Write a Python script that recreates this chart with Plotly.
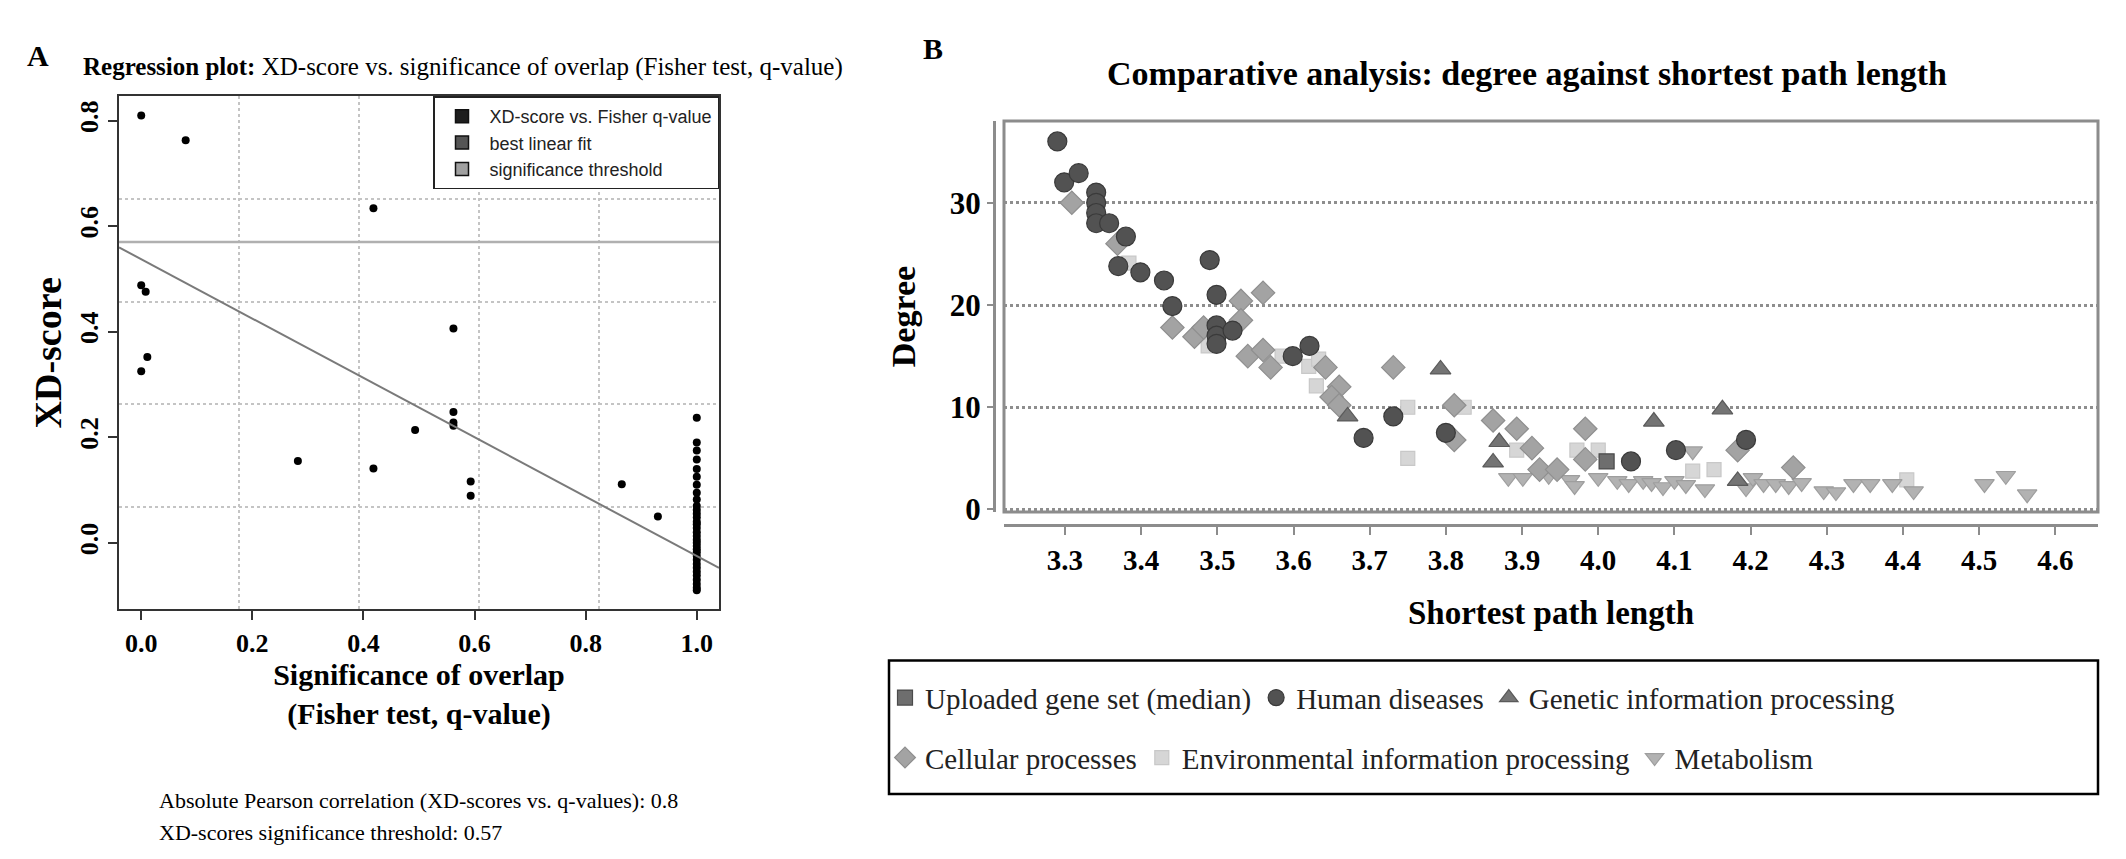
import numpy as np
import plotly.graph_objects as go

W, H = 2126, 859

# ---------------- panel A : regression plot ----------------
# q-values and XD-scores of the pathways (one column of points sits at q = 1.0)
q_scattered = [0.0, 0.08, 0.418, 0.0, 0.008, 0.011, 0.0, 0.562, 0.493, 0.562, 0.562, 0.562,
               0.282, 0.418, 0.593, 0.593, 0.865, 0.93]
xd_scattered = [0.81, 0.763, 0.634, 0.488, 0.476, 0.352, 0.325, 0.406, 0.214, 0.248, 0.228, 0.222,
                0.155, 0.141, 0.116, 0.089, 0.111, 0.05]
xd_at_q_one = [0.237, 0.19, 0.175, 0.158, 0.14, 0.125, 0.11, 0.095, 0.082, 0.07, 0.062, 0.055,
               0.048, 0.04, 0.035, 0.028, 0.02, 0.013, 0.006, 0.0, -0.006, -0.012, -0.018,
               -0.025, -0.032, -0.04, -0.047, -0.055, -0.062, -0.07, -0.078, -0.085, -0.09]
fit_intercept = 0.5375
fit_slope = -0.5625
xd_threshold = 0.57
pearson_abs = 0.8

legend_a_names = ["XD-score vs. Fisher q-value", "best linear fit", "significance threshold"]
legend_a_colors = ["#1e1e1e", "#555555", "#a0a0a0"]

# ---------------- panel B : degree vs shortest path length ----------------
uploaded_x = [4.011]
uploaded_y = [4.7]

human_x = [3.29, 3.299, 3.318, 3.341, 3.341, 3.341, 3.341, 3.358, 3.38, 3.37, 3.399, 3.43, 3.441,
           3.49, 3.499, 3.499, 3.499, 3.499, 3.52, 3.599, 3.621, 3.692, 3.731, 3.80, 4.043, 4.102, 4.194]
human_y = [36.0, 32.0, 32.9, 31.0, 30.0, 29.0, 28.0, 28.0, 26.7, 23.8, 23.2, 22.4, 19.9,
           24.4, 21.0, 18.0, 17.0, 16.2, 17.5, 15.0, 16.0, 7.0, 9.1, 7.5, 4.7, 5.8, 6.8]

genetic_x = [3.671, 3.793, 3.870, 3.862, 4.073, 4.163, 4.183]
genetic_y = [9.1, 13.7, 6.6, 4.6, 8.6, 9.8, 2.8]

cellular_x = [3.309, 3.369, 3.441, 3.47, 3.482, 3.531, 3.531, 3.54, 3.56, 3.56, 3.57, 3.642, 3.66,
              3.65, 3.66, 3.731, 3.811, 3.811, 3.862, 3.893, 3.913, 3.923, 3.946, 3.983, 3.983,
              4.183, 4.256]
cellular_y = [30.0, 26.0, 17.8, 16.9, 17.8, 20.4, 18.5, 15.0, 21.2, 15.6, 13.9, 13.9, 12.0,
              11.0, 10.2, 13.9, 10.2, 6.8, 8.7, 7.9, 6.0, 3.9, 3.9, 7.9, 4.9,
              5.8, 4.1]

environ_x = [3.384, 3.488, 3.585, 3.62, 3.63, 3.633, 3.75, 3.75, 3.824, 3.893, 3.972, 4.0,
             4.124, 4.152, 4.405]
environ_y = [24.1, 16.0, 15.0, 14.0, 12.1, 14.7, 10.0, 5.0, 10.0, 5.8, 5.8, 5.8,
             3.75, 3.9, 2.9]

metab_x = [3.882, 3.901, 3.935, 3.963, 3.969, 4.0, 4.025, 4.04, 4.059, 4.07, 4.085, 4.1, 4.115,
           4.124, 4.14, 4.194, 4.203, 4.217, 4.233, 4.25, 4.267, 4.296, 4.312, 4.335, 4.357,
           4.386, 4.414, 4.507, 4.535, 4.563]
metab_y = [3.1, 3.1, 3.3, 2.9, 2.3, 3.1, 2.8, 2.5, 2.8, 2.6, 2.2, 2.8, 2.4,
           5.7, 2.0, 2.1, 3.1, 2.5, 2.5, 2.3, 2.6, 1.8, 1.7, 2.5, 2.5,
           2.5, 1.8, 2.5, 3.3, 1.5]

path_ticks = [3.3, 3.4, 3.5, 3.6, 3.7, 3.8, 3.9, 4.0, 4.1, 4.2, 4.3, 4.4, 4.5, 4.6]
degree_ticks = [0, 10, 20, 30]

SERIF = "Liberation Serif, Times New Roman, serif"
NARROW = "Liberation Sans Narrow, Arial Narrow, Liberation Sans, Arial, sans-serif"


def px_x(p):
    return p / W


def px_y(p):
    return 1 - p / H


def r_range(vals):
    # R extends the data range by 4 % on both sides
    lo, hi = min(vals), max(vals)
    pad = 0.04 * (hi - lo)
    return [lo - pad, hi + pad]


q_all = q_scattered + [1.0] * len(xd_at_q_one)
xd_all = xd_scattered + xd_at_q_one
rx = r_range(q_all)
ry = r_range(xd_all)

A_LEFT, A_RIGHT, A_TOP, A_BOTTOM = 111, 711, 90, 612

fig = go.Figure()

# panel A points
fig.add_trace(go.Scatter(x=q_all, y=xd_all, mode="markers", showlegend=False,
                         marker=dict(color="black", size=8), xaxis="x", yaxis="y"))
# best linear fit
fit_x = np.array(rx)
fig.add_trace(go.Scatter(x=fit_x, y=fit_intercept + fit_slope * fit_x, mode="lines",
                         showlegend=False, line=dict(color="#7a7a7a", width=2),
                         xaxis="x", yaxis="y"))
fig.add_shape(type="line", xref="x domain", x0=0, x1=1, yref="y", y0=xd_threshold,
              y1=xd_threshold, line=dict(color="#b0b0b0", width=2.5))

# panel A legend entries (squares)
for name, col in zip(legend_a_names, legend_a_colors):
    fig.add_trace(go.Scatter(x=[None], y=[None], mode="markers", name=name, legend="legend",
                             marker=dict(symbol="square", size=13, color=col,
                                         line=dict(color="#111", width=1.5)),
                             xaxis="x", yaxis="y"))

# panel B series, lighter ones underneath
series_b = [
    ("Environmental information processing", environ_x, environ_y, "square", 14, "#d6d6d6", "#c8c8c8", "legend3", 2),
    ("Metabolism", metab_x, metab_y, "triangle-down", 17, "#b2b2b2", "#9e9e9e", "legend3", 3),
    ("Cellular processes", cellular_x, cellular_y, "diamond", 18, "#a3a3a3", "#8f8f8f", "legend3", 1),
    ("Genetic information processing", genetic_x, genetic_y, "triangle-up", 18, "#747474", "#5a5a5a", "legend2", 3),
    ("Human diseases", human_x, human_y, "circle", 19, "#525252", "#3a3a3a", "legend2", 2),
    ("Uploaded gene set (median)", uploaded_x, uploaded_y, "square", 15, "#6e6e6e", "#4a4a4a", "legend2", 1),
]
for name, xs, ys, sym, size, col, edge, leg, rank in series_b:
    fig.add_trace(go.Scatter(x=xs, y=ys, mode="markers", name=name, legend=leg, legendrank=rank,
                             marker=dict(symbol=sym, size=size, color=col,
                                         line=dict(color=edge, width=1.2)),
                             xaxis="x2", yaxis="y2"))

legend_b_font = dict(family=SERIF, size=29, color="#222")

fig.update_layout(
    width=W, height=H, autosize=False,
    margin=dict(l=0, r=0, t=0, b=0),
    paper_bgcolor="white", plot_bgcolor="white",
    xaxis=dict(domain=[px_x(A_LEFT), px_x(A_RIGHT)], range=rx, anchor="y",
               tick0=0, dtick=0.2, tickformat=".1f",
               ticks="outside", ticklen=9, tickwidth=2, tickcolor="#333",
               showline=True, mirror=True, linecolor="#333", linewidth=2,
               showgrid=False, zeroline=False,
               tickfont=dict(family=SERIF, size=26, color="black", weight="bold"),
               title=dict(text="<b>Significance of overlap</b><br><b>(Fisher test, q-value)</b>",
                          font=dict(family=SERIF, size=30, color="black"), standoff=6),
               minor=dict(tick0=rx[0], dtick=(rx[1] - rx[0]) / 5, showgrid=True,
                          gridcolor="#c4c4c4", griddash="dot", gridwidth=2)),
    yaxis=dict(domain=[px_y(A_BOTTOM), px_y(A_TOP)], range=ry, anchor="x",
               tick0=0, dtick=0.2, tickformat=".1f", tickangle=-90,
               ticks="outside", ticklen=9, tickwidth=2, tickcolor="#333",
               showline=True, mirror=True, linecolor="#333", linewidth=2,
               showgrid=False, zeroline=False,
               tickfont=dict(family=SERIF, size=26, color="black", weight="bold"),
               title=dict(text="<b>XD-score</b>", font=dict(family=SERIF, size=38, color="black"),
                          standoff=1),
               minor=dict(tick0=ry[0], dtick=(ry[1] - ry[0]) / 5, showgrid=True,
                          gridcolor="#c4c4c4", griddash="dot", gridwidth=2)),
    xaxis2=dict(domain=[px_x(996), px_x(2090)], range=[3.22, 4.656], anchor="free",
                position=px_y(526), tickvals=path_ticks, tickformat=".1f",
                ticks="outside", ticklen=8, tickwidth=2, tickcolor="#8c8c8c",
                showline=True, linecolor="#8c8c8c", linewidth=3,
                showgrid=False, zeroline=False,
                tickfont=dict(family=SERIF, size=29, color="black", weight="bold"),
                title=dict(text="<b>Shortest path length</b>",
                           font=dict(family=SERIF, size=33, color="black"), standoff=26)),
    yaxis2=dict(domain=[px_y(513), px_y(115)], range=[-0.25, 38], anchor="free",
                position=px_x(986), tickvals=degree_ticks,
                ticks="outside", ticklen=6, tickwidth=2, tickcolor="#8c8c8c",
                showline=True, linecolor="#8c8c8c", linewidth=3,
                showgrid=True, gridcolor="#8e8e8e", griddash="dot", gridwidth=2.5,
                zeroline=False,
                tickfont=dict(family=SERIF, size=31, color="black", weight="bold"),
                title=dict(text="<b>Degree</b>", font=dict(family=SERIF, size=34, color="black"),
                           standoff=22)),
    legend=dict(x=px_x(A_RIGHT), y=px_y(A_TOP), xanchor="right", yanchor="top",
                bordercolor="#222", borderwidth=1.5, bgcolor="white",
                font=dict(family=NARROW, size=18, color="#222"), itemwidth=45,
                tracegroupgap=0, traceorder="normal"),
    legend2=dict(orientation="h", x=px_x(877), y=px_y(702), xanchor="left", yanchor="middle",
                 bgcolor="rgba(0,0,0,0)", font=legend_b_font, itemwidth=30, traceorder="normal"),
    legend3=dict(orientation="h", x=px_x(877), y=px_y(763), xanchor="left", yanchor="middle",
                 bgcolor="rgba(0,0,0,0)", font=legend_b_font, itemwidth=30, traceorder="normal"),
)

# frame around panel B plotting area and the legend box
fig.add_shape(type="rect", xref="x2 domain", yref="y2 domain", x0=0, x1=1, y0=0, y1=1,
              line=dict(color="#8c8c8c", width=3), layer="below")
fig.add_shape(type="rect", xref="paper", yref="paper", x0=px_x(881), x1=px_x(2090),
              y0=px_y(800), y1=px_y(664), line=dict(color="black", width=2.5))

# texts
fig.add_annotation(x=px_x(17), y=px_y(30), xref="paper", yref="paper", xanchor="left",
                   text="<b>A</b>", showarrow=False,
                   font=dict(family=SERIF, size=30, color="black"))
fig.add_annotation(x=px_x(73), y=px_y(44), xref="paper", yref="paper", xanchor="left",
                   text="<b>Regression plot:</b> XD-score vs. significance of overlap (Fisher test, q-value)",
                   showarrow=False, font=dict(family=SERIF, size=25, color="black"))
fig.add_annotation(x=px_x(149), y=px_y(821), xref="paper", yref="paper", xanchor="left",
                   text="Absolute Pearson correlation (XD-scores vs. q-values): %s" % pearson_abs,
                   showarrow=False, font=dict(family=SERIF, size=22, color="black"))
fig.add_annotation(x=px_x(149), y=px_y(854), xref="paper", yref="paper", xanchor="left",
                   text="XD-scores significance threshold: %s" % xd_threshold,
                   showarrow=False, font=dict(family=SERIF, size=22, color="black"))
fig.add_annotation(x=px_x(913), y=px_y(22), xref="paper", yref="paper", xanchor="left",
                   text="<b>B</b>", showarrow=False,
                   font=dict(family=SERIF, size=30, color="black"))
fig.add_annotation(x=px_x(1519), y=px_y(46), xref="paper", yref="paper", xanchor="center",
                   text="<b>Comparative analysis: degree against shortest path length</b>",
                   showarrow=False, font=dict(family=SERIF, size=34, color="black"))

fig.write_html("out.html")
